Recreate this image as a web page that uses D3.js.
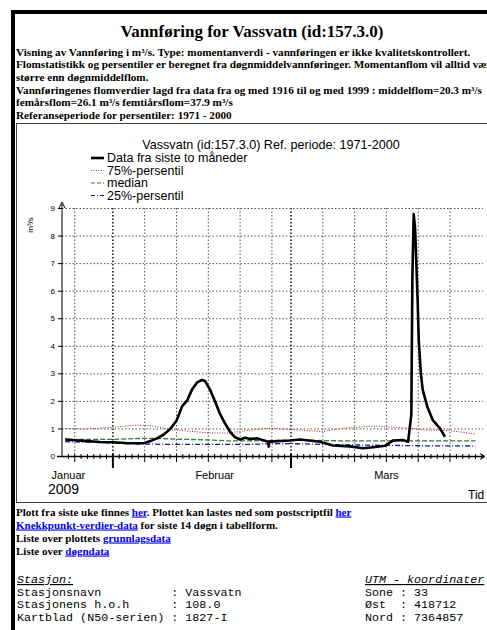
<!DOCTYPE html>
<html lang="no">
<head>
<meta charset="UTF-8">
<title>Vannføring for Vassvatn (id:157.3.0)</title>
<script src="https://d3js.org/d3.v7.min.js"></script>
<style>
  body { margin: 0; background: #fff; }
  svg text { font-family: "Liberation Sans", Arial, sans-serif; }
  .serif { font-family: "Liberation Serif", "Times New Roman", serif; font-weight: bold; }
  .mono { font-family: "Liberation Mono", "Courier New", monospace; }
  .lnk { fill: #0000ee; text-decoration: underline; }
</style>
</head>
<body>
<svg id="page" width="487" height="630"></svg>
<script>
// measured flow, last two months (m3/s)
const flowDates = [
  "2009-01-24T12:00", "2009-01-26T00:00", "2009-01-28T00:00", "2009-01-30T00:00",
  "2009-02-01T00:00", "2009-02-03T00:00", "2009-02-05T00:00", "2009-02-06T00:00",
  "2009-02-07T00:00", "2009-02-08T00:00", "2009-02-09T00:00", "2009-02-10T00:00",
  "2009-02-11T00:00", "2009-02-11T21:00", "2009-02-12T17:00", "2009-02-13T10:00",
  "2009-02-14T05:00", "2009-02-15T00:00", "2009-02-15T12:00", "2009-02-16T07:00",
  "2009-02-17T02:00", "2009-02-17T19:00", "2009-02-18T14:00", "2009-02-19T10:00",
  "2009-02-20T05:00", "2009-02-21T00:00", "2009-02-21T19:00", "2009-02-22T14:00",
  "2009-02-23T17:00", "2009-02-24T12:00", "2009-02-25T10:00", "2009-02-25T12:00",
  "2009-02-25T14:00", "2009-02-28T19:00", "2009-03-02T10:00", "2009-03-05T14:00",
  "2009-03-07T14:00", "2009-03-10T07:00", "2009-03-12T07:00", "2009-03-13T22:00",
  "2009-03-15T19:00", "2009-03-17T00:00", "2009-03-18T14:00", "2009-03-19T10:00",
  "2009-03-19T22:00", "2009-03-20T02:00", "2009-03-20T07:00", "2009-03-20T12:00",
  "2009-03-20T17:00", "2009-03-20T22:00", "2009-03-21T02:00", "2009-03-21T10:00",
  "2009-03-21T17:00", "2009-03-22T10:00", "2009-03-23T07:00", "2009-03-24T10:00",
  "2009-03-25T05:00"
];
const flowValues = [
  0.60, 0.57, 0.54, 0.51,
  0.50, 0.47, 0.46, 0.47,
  0.55, 0.65, 0.78, 0.98,
  1.28, 1.80, 2.03, 2.40,
  2.66, 2.76, 2.72, 2.40,
  1.97, 1.55, 1.20, 0.88,
  0.68, 0.60, 0.66, 0.62,
  0.64, 0.58, 0.52, 0.34,
  0.52, 0.56, 0.60, 0.52,
  0.38, 0.35, 0.28, 0.32,
  0.37, 0.56, 0.58, 0.52,
  1.50, 6.50, 8.78, 8.30,
  7.00, 5.60, 4.20, 3.00,
  2.40, 1.80, 1.30, 1.00,
  0.70
];

// percentiles, reference period 1971-2000
const pctDates = [
  "2009-01-24T12:00", "2009-01-28T00:00", "2009-02-01T00:00", "2009-02-04T00:00",
  "2009-02-07T00:00", "2009-02-10T00:00", "2009-02-13T00:00", "2009-02-16T00:00",
  "2009-02-19T00:00", "2009-02-22T00:00", "2009-02-25T00:00", "2009-02-28T00:00",
  "2009-03-03T00:00", "2009-03-06T00:00", "2009-03-09T00:00", "2009-03-14T00:00",
  "2009-03-19T00:00", "2009-03-22T00:00", "2009-03-26T00:00", "2009-03-30T00:00"
];
const p75Values = [1.00, 0.98, 1.04, 1.11, 1.10, 0.96, 0.90, 0.84, 0.83, 0.92,
                   1.00, 0.98, 0.93, 0.89, 1.00, 1.09, 1.02, 0.95, 0.92, 0.80];
const medianValues = [0.60, 0.60, 0.60, 0.63, 0.64, 0.62, 0.60, 0.58, 0.55, 0.55,
                      0.56, 0.57, 0.57, 0.56, 0.55, 0.55, 0.55, 0.55, 0.55, 0.55];
const p25Values = [0.52, 0.50, 0.47, 0.44, 0.43, 0.42, 0.42, 0.42, 0.42, 0.42,
                   0.44, 0.45, 0.44, 0.42, 0.41, 0.39, 0.38, 0.37, 0.37, 0.36];

const yTicks = [0, 1, 2, 3, 4, 5, 6, 7, 8, 9];
const monthLabels = [["2009-01-25T00:00", "Januar"], ["2009-02-17T00:00", "Februar"], ["2009-03-16T00:00", "Mars"]];
const gridDays = [1, 6, 11, 16, 21, 26];

const legendItems = [
  { label: "Data fra siste to måneder", color: "#000", width: 2.6, dash: null },
  { label: "75%-persentil", color: "#c02020", width: 1, dash: "1,1.5" },
  { label: "median", color: "#2e7d2e", width: 1.2, dash: "4,2" },
  { label: "25%-persentil", color: "#1010b0", width: 1.2, dash: "4,2,1,2" }
];

const headerLines = [
  "Visning av Vannføring i m³/s. Type: momentanverdi - vannføringen er ikke kvalitetskontrollert.",
  "Flomstatistikk og persentiler er beregnet fra døgnmiddelvannføringer. Momentanflom vil alltid være",
  "større enn døgnmiddelflom.",
  "Vannføringenes flomverdier lagd fra data fra og med 1916 til og med 1999 : middelflom=20.3 m³/s",
  "femårsflom=26.1 m³/s femtiårsflom=37.9 m³/s",
  "Referanseperiode for persentiler: 1971 - 2000"
];

const footerLines = [
  [["Plott fra siste uke finnes ", 0], ["her", 1], [". Plottet kan lastes ned som postscriptfil ", 0], ["her", 1]],
  [["Knekkpunkt-verdier-data", 1], [" for siste 14 døgn i tabellform.", 0]],
  [["Liste over plottets ", 0], ["grunnlagsdata", 1]],
  [["Liste over ", 0], ["døgndata", 1]]
];

const stationLines = [
  "Stasjonsnavn          : Vassvatn",
  "Stasjonens h.o.h      : 108.0",
  "Kartblad (N50-serien) : 1827-I"
];
const utmLines = ["Sone : 33", "Øst  : 418712", "Nord : 7364857"];

const parse = d3.timeParse("%Y-%m-%dT%H:%M");
const svg = d3.select("#page");

// page frame
svg.append("rect").attr("x", 11).attr("y", 10).attr("width", 480).attr("height", 4).attr("fill", "#000");
svg.append("rect").attr("x", 11).attr("y", 10).attr("width", 4).attr("height", 620).attr("fill", "#000");

svg.append("text").attr("class", "serif")
  .attr("x", 252).attr("y", 37).attr("text-anchor", "middle")
  .style("font-size", "17px")
  .text("Vannføring for Vassvatn (id:157.3.0)");

svg.selectAll(".hline").data(headerLines).enter().append("text")
  .attr("class", "serif hline")
  .attr("x", 16).attr("y", (d, i) => 55.5 + i * 12.7)
  .style("font-size", "11.2px")
  .text(d => d);

// chart box
svg.append("rect").attr("x", 16.5).attr("y", 123.5).attr("width", 490).attr("height", 379)
  .attr("fill", "none").attr("stroke", "#444").attr("stroke-width", 1);

const x = d3.scaleTime()
  .domain([new Date(2009, 0, 24), new Date(2009, 2, 31, 12)])
  .range([62, 485]);
const y = d3.scaleLinear().domain([0, 9]).range([456, 208]);

svg.append("text").attr("x", 271).attr("y", 149).attr("text-anchor", "middle")
  .style("font-size", "12.6px")
  .text("Vassvatn (id:157.3.0) Ref. periode: 1971-2000");

// legend
const leg = svg.selectAll(".leg").data(legendItems).enter().append("g")
  .attr("transform", (d, i) => `translate(0,${158 + i * 12.5})`);
leg.append("line").attr("x1", 91).attr("x2", 104).attr("y1", 0).attr("y2", 0)
  .attr("stroke", d => d.color).attr("stroke-width", d => d.width)
  .attr("stroke-dasharray", d => d.dash);
leg.append("text").attr("x", 107).attr("y", 4.3).style("font-size", "12.5px").text(d => d.label);

// grid
const days = d3.timeDay.range(x.domain()[0], x.domain()[1]);
const gridDates = days.filter(d => gridDays.includes(d.getDate()));
svg.selectAll(".vgrid").data(gridDates).enter().append("line")
  .attr("x1", d => x(d)).attr("x2", d => x(d))
  .attr("y1", y(9)).attr("y2", y(0))
  .attr("stroke", d => d.getDate() === 1 ? "#000" : "#555")
  .attr("stroke-width", d => d.getDate() === 1 ? 1.4 : 1)
  .attr("stroke-dasharray", "1.5,2");
svg.selectAll(".hgrid").data(yTicks.slice(1)).enter().append("line")
  .attr("x1", 62).attr("x2", 483)
  .attr("y1", d => y(d) + 0.5).attr("y2", d => y(d) + 0.5)
  .attr("stroke", "#555").attr("stroke-width", 1)
  .attr("stroke-dasharray", "1.5,2");

// percentile lines
const pctLine = vals => d3.line().x(d => x(parse(d))).y((d, i) => y(vals[i]))(pctDates);
svg.append("path").attr("d", pctLine(p75Values)).attr("fill", "none")
  .attr("stroke", legendItems[1].color).attr("stroke-width", 1).attr("stroke-dasharray", "1,1.5");
svg.append("path").attr("d", pctLine(medianValues)).attr("fill", "none")
  .attr("stroke", legendItems[2].color).attr("stroke-width", 1.3).attr("stroke-dasharray", "5,2");
svg.append("path").attr("d", pctLine(p25Values)).attr("fill", "none")
  .attr("stroke", legendItems[3].color).attr("stroke-width", 1.3).attr("stroke-dasharray", "5,2,1,2");

// measured data
const flowLine = d3.line().x(d => x(parse(d))).y((d, i) => y(flowValues[i]));
svg.append("path").attr("d", flowLine(flowDates)).attr("fill", "none")
  .attr("stroke", "#000").attr("stroke-width", 2.6).attr("stroke-linejoin", "round");

// axes
svg.append("line").attr("x1", 62).attr("x2", 62).attr("y1", 204).attr("y2", 457).attr("stroke", "#000");
svg.append("path").attr("d", "M59,208 L62,202 L65,208").attr("fill", "none").attr("stroke", "#000");
svg.append("line").attr("x1", 57).attr("x2", 484).attr("y1", 456.5).attr("y2", 456.5).attr("stroke", "#000").attr("stroke-width", 1.3);
svg.append("path").attr("d", "M480,453.5 L485,456.5 L480,459.5").attr("fill", "none").attr("stroke", "#000");

const yAxis = d3.axisLeft(y).tickValues(yTicks).tickSize(4).tickPadding(3);
const yg = svg.append("g").attr("transform", "translate(62,0)").call(yAxis);
yg.select(".domain").remove();
yg.selectAll("text").style("font-size", "8px");

svg.append("text").attr("transform", "translate(33,225) rotate(-90)")
  .attr("text-anchor", "middle").style("font-size", "8px").text("m³/s");

// x ticks: daily minor, grid days medium, month starts long
svg.selectAll(".xtick").data(days.filter(d => x(d) > 62)).enter().append("line")
  .attr("x1", d => x(d)).attr("x2", d => x(d))
  .attr("y1", 454)
  .attr("y2", d => d.getDate() === 1 ? 468 : gridDays.includes(d.getDate()) ? 462 : 459)
  .attr("stroke", "#000")
  .attr("stroke-width", d => d.getDate() === 1 ? 2 : 1);

svg.selectAll(".mlab").data(monthLabels).enter().append("text")
  .attr("x", d => x(parse(d[0]))).attr("y", 479)
  .attr("text-anchor", "middle").style("font-size", "11px")
  .text(d => d[1]);
svg.append("text").attr("x", 48).attr("y", 494).style("font-size", "14px").text("2009");
svg.append("text").attr("x", 468).attr("y", 499).style("font-size", "12px").text("Tid");

// text under the chart
const fl = svg.selectAll(".fline").data(footerLines).enter().append("text")
  .attr("class", "serif fline")
  .attr("x", 16).attr("y", (d, i) => 515.5 + i * 13)
  .style("font-size", "11px");
fl.selectAll("tspan").data(d => d).enter().append("tspan")
  .attr("class", d => d[1] ? "lnk" : null)
  .text(d => d[0]);

// station info
svg.append("text").attr("class", "mono").attr("x", 17).attr("y", 583)
  .style("font-size", "11.7px").style("font-style", "italic").style("text-decoration", "underline")
  .text("Stasjon:");
svg.append("text").attr("class", "mono").attr("x", 365).attr("y", 583)
  .style("font-size", "11.7px").style("font-style", "italic").style("text-decoration", "underline")
  .text("UTM - koordinater");
svg.selectAll(".sline").data(stationLines).enter().append("text")
  .attr("class", "mono sline").attr("x", 17).attr("y", (d, i) => 595.5 + i * 12.6)
  .style("font-size", "11.7px").style("white-space", "pre").attr("xml:space", "preserve")
  .text(d => d);
svg.selectAll(".uline").data(utmLines).enter().append("text")
  .attr("class", "mono uline").attr("x", 365).attr("y", (d, i) => 595.5 + i * 12.6)
  .style("font-size", "11.7px").style("white-space", "pre").attr("xml:space", "preserve")
  .text(d => d);
</script>
</body>
</html>
